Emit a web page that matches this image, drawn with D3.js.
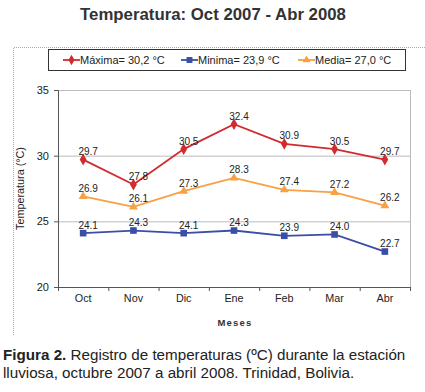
<!DOCTYPE html>
<html><head><meta charset="utf-8">
<script src="https://cdn.jsdelivr.net/npm/d3@7"></script>
<style>body{margin:0;background:#fff}svg{display:block;font-family:Arial,"Liberation Sans",sans-serif}</style>
</head><body><svg id="c" width="425" height="392"></svg>
<script>
const months = ["Oct","Nov","Dic","Ene","Feb","Mar","Abr"];
const maxima = [29.7,27.8,30.5,32.4,30.9,30.5,29.7];
const minima = [24.1,24.3,24.1,24.3,23.9,24.0,22.7];
const media  = [26.9,26.1,27.3,28.3,27.4,27.2,26.2];
const yTicks = [20,25,30,35];
const legendLabels = ["Máxima= 30,2 °C","Minima= 23,9 °C","Media= 27,0 °C"];

const svg = d3.select("#c");
const L=58,R=410,T=90,B=287;
const x = d3.scaleBand().domain(months).range([L,R]);
const y = d3.scaleLinear().domain([20,35]).range([B,T]);

svg.append("text").attr("x",213).attr("y",20).attr("text-anchor","middle")
  .attr("font-size",16.8).attr("font-weight","bold").attr("fill","#333").text("Temperatura: Oct 2007 - Abr 2008");

// outer dotted frame
svg.append("path").attr("d","M13.5,335 V47.5 H425").attr("fill","none").attr("stroke","#aaa").attr("stroke-dasharray","1,1");

// gridlines
svg.append("g").selectAll("line").data(yTicks.slice(1)).join("line")
  .attr("x1",L).attr("x2",R).attr("y1",d=>y(d)+0.5).attr("y2",d=>y(d)+0.5)
  .attr("stroke","#bbb").attr("stroke-width",1);
svg.append("line").attr("x1",R+0.5).attr("x2",R+0.5).attr("y1",T).attr("y2",B).attr("stroke","#bbb");

// axes
const ya = svg.append("g").attr("transform",`translate(${L},0)`).call(d3.axisLeft(y).tickValues(yTicks).tickSize(4).tickPadding(5));
ya.selectAll("text").attr("font-size",11).attr("fill","#222").attr("font-family","Arial");
ya.selectAll("line,path").attr("stroke","#555");
const xa = svg.append("g").attr("transform",`translate(0,${B})`).call(d3.axisBottom(x).tickSize(0).tickPadding(7));
xa.selectAll("text").attr("font-size",10.8).attr("fill","#222").attr("font-family","Arial");
xa.select("path").attr("stroke","#555");
xa.selectAll(".bt").data(months.concat(["_"])).join("line").attr("class","bt")
  .attr("x1",(d,i)=>L+i*x.bandwidth()+0.5).attr("x2",(d,i)=>L+i*x.bandwidth()+0.5).attr("y1",0).attr("y2",4).attr("stroke","#555");

svg.append("text").attr("transform",`translate(24,${(T+B)/2}) rotate(-90)`).attr("text-anchor","middle")
  .attr("font-size",10.8).attr("fill","#222").text("Temperatura (°C)");
svg.append("text").attr("x",(L+R)/2+1).attr("y",326).attr("text-anchor","middle")
  .attr("font-size",9.5).attr("font-weight","bold").attr("letter-spacing",1.2).attr("fill","#333").text("Meses");

const series=[
  {vals:maxima,color:"#d12b2f",sym:d3.symbolDiamond,size:40},
  {vals:minima,color:"#3b4ea6",sym:d3.symbolSquare,size:44},
  {vals:media,color:"#f7a045",sym:d3.symbolTriangle,size:34}
];
const cx=m=>x(m)+x.bandwidth()/2;
series.forEach(s=>{
  svg.append("path").datum(s.vals).attr("fill","none").attr("stroke",s.color).attr("stroke-width",1.8)
    .attr("d",d3.line().x((d,i)=>cx(months[i])).y(d=>y(d)));
  svg.append("g").selectAll("path").data(s.vals).join("path")
    .attr("transform",(d,i)=>`translate(${cx(months[i])},${y(d)})`)
    .attr("d",d3.symbol().type(s.sym).size(s.size)).attr("fill",s.color);
  svg.append("g").selectAll("text").data(s.vals).join("text")
    .attr("x",(d,i)=>cx(months[i])+5).attr("y",d=>y(d)-4.5).attr("text-anchor","middle")
    .attr("font-size",10).attr("fill","#222").text(d=>d.toFixed(1));
});

// legend
svg.append("rect").attr("x",48.5).attr("y",49.5).attr("width",357).attr("height",21).attr("fill","#fff").attr("stroke","#333");
const lx=[63,181,298];
series.forEach((s,i)=>{
  svg.append("line").attr("x1",lx[i]).attr("x2",lx[i]+17).attr("y1",60).attr("y2",60).attr("stroke",s.color).attr("stroke-width",1.8);
  svg.append("path").attr("transform",`translate(${lx[i]+8.5},60)`).attr("d",d3.symbol().type(s.sym).size(s.size*0.8)).attr("fill",s.color);
  svg.append("text").attr("x",lx[i]+17).attr("y",64).attr("font-size",11).attr("fill","#222").text(legendLabels[i]);
});

// caption
const cap=svg.append("text").attr("x",3).attr("y",360).attr("font-size",15.2).attr("fill","#222");
cap.append("tspan").attr("font-weight","bold").text("Figura 2.");
cap.append("tspan").text(" Registro de temperaturas (ºC) durante la estación");
svg.append("text").attr("x",3).attr("y",378).attr("font-size",15.2).attr("fill","#222").text("lluviosa, octubre 2007 a abril 2008. Trinidad, Bolivia.");
</script></body></html>
